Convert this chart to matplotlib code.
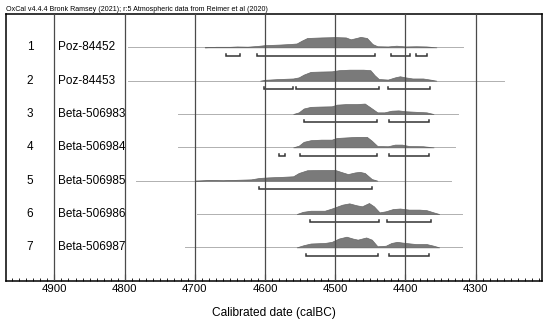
import matplotlib
matplotlib.use('Agg')
from matplotlib import pyplot as plt
from matplotlib.ticker import MultipleLocator

plt.rcParams['font.family'] = ['Liberation Sans', 'DejaVu Sans']

header = 'OxCal v4.4.4 Bronk Ramsey (2021); r:5 Atmospheric data from Reimer et al (2020)'

samples = ['Poz-84452', 'Poz-84453', 'Beta-506983', 'Beta-506984',
           'Beta-506985', 'Beta-506986', 'Beta-506987']

# calibrated probability profiles (years calBC, relative probability)
dist_years = [
    [4686, 4670, 4650, 4640, 4625, 4612, 4600, 4580, 4565, 4555, 4548, 4540, 4520, 4500,
     4485, 4478, 4470, 4464, 4455, 4447, 4440, 4425, 4413, 4400, 4385, 4370, 4356],
    [4607, 4600, 4580, 4560, 4552, 4545, 4535, 4520, 4505, 4495, 4480, 4460, 4450, 4444,
     4438, 4425, 4415, 4408, 4400, 4390, 4375, 4365, 4356],
    [4560, 4552, 4545, 4535, 4520, 4505, 4498, 4485, 4470, 4458, 4450, 4440, 4430, 4420,
     4410, 4400, 4385, 4370, 4360],
    [4560, 4552, 4545, 4535, 4520, 4505, 4498, 4485, 4470, 4455, 4448, 4440, 4425, 4415,
     4405, 4395, 4375, 4360],
    [4700, 4680, 4660, 4640, 4620, 4608, 4595, 4575, 4560, 4552, 4540, 4520, 4500, 4492,
     4482, 4472, 4465, 4458, 4448, 4440],
    [4555, 4546, 4535, 4515, 4505, 4490, 4480, 4470, 4462, 4452, 4445, 4437, 4428, 4418,
     4408, 4395, 4380, 4370, 4360, 4352],
    [4555, 4545, 4535, 4515, 4505, 4495, 4484, 4475, 4468, 4456, 4448, 4440, 4428, 4420,
     4412, 4400, 4385, 4370, 4360, 4352],
]
dist_probs = [
    [0, 0.5, 0.5, 0.8, 0.6, 1.2, 2, 2.5, 3, 3.5, 6, 8.5, 9, 9.3,
     9, 7.3, 8.5, 9.5, 8.5, 3, 1, 0.8, 1.5, 0.8, 1, 0.8, 0],
    [0, 0.8, 1.5, 2, 3, 5.5, 8, 8.3, 8.5, 9.5, 10, 10, 9.5, 5,
     1.5, 1, 3, 4, 3, 2, 2, 1, 0],
    [0, 1.5, 5, 6.5, 6.8, 7, 8.5, 9, 9, 9.5, 6, 1.5, 1.5, 3,
     3.3, 2.5, 2, 1.5, 0],
    [0, 1.5, 5, 6.5, 7, 7, 8.5, 9, 9.5, 9.5, 6, 1.2, 1, 2.5,
     2.5, 1.2, 1, 0],
    [0, 0.6, 0.4, 0.8, 1.2, 2.5, 3, 3.5, 4, 7, 9.5, 9.7, 9.7, 8,
     6, 7.5, 8, 7, 1.5, 0],
    [0, 2, 3, 3, 5, 8.5, 9.7, 8, 7, 10, 7, 1.5, 2.5, 4.5,
     5, 4, 4, 3.5, 1.5, 0],
    [0, 2, 3.5, 4, 5, 8, 9.7, 8, 7, 9, 7, 1, 1.5, 4,
     5, 4, 3, 3, 1.5, 0],
]

# extent of the thin baseline of each sample
line_start = [4795, 4795, 4724, 4724, 4784, 4697, 4714]
line_end = [4318, 4259, 4325, 4330, 4335, 4320, 4320]

# 95.4% ranges
ranges = [
    [(4655, 4636), (4612, 4443), (4420, 4394), (4385, 4370)],
    [(4601, 4560), (4556, 4438), (4425, 4365)],
    [(4545, 4440), (4423, 4367)],
    [(4580, 4572), (4550, 4440), (4423, 4367)],
    [(4609, 4448)],
    [(4536, 4438), (4426, 4363)],
    [(4541, 4439), (4423, 4366)],
]

fig = plt.figure(figsize=(5.5, 3.24), dpi=100)
ax = fig.add_axes([6 / 550, 43.3 / 324, 535.7 / 550, 266.7 / 324])

scale = 0.033
for i, name in enumerate(samples):
    row = i + 1
    ax.plot([line_start[i], line_end[i]], [row, row], color='#b0b0b0', lw=0.7, zorder=1)
    base = [row] * len(dist_years[i])
    top = [row - p * scale for p in dist_probs[i]]
    ax.fill_between(dist_years[i], base, top, color='#7a7a7a', lw=0.5,
                    edgecolor='#666666', zorder=2)
    # range brackets under the distribution
    yb = row + 0.25
    for a, b in ranges[i]:
        ax.plot([a, a, b, b], [yb - 0.06, yb, yb, yb - 0.06], color='#333333',
                lw=1.1, solid_joinstyle='miter', zorder=3)
    ax.text(0.0448, row, str(row), transform=ax.get_yaxis_transform(),
            ha='center', va='center', fontsize=8.5)
    ax.text(0.097, row, name, transform=ax.get_yaxis_transform(),
            ha='left', va='center', fontsize=8.5)

"""vertical lines every 100 years"""
for yr in range(4300, 5000, 100):
    ax.axvline(yr, color='#4a4a4a', lw=0.9, zorder=4)

ax.set_xlim(4969, 4206)
ax.set_ylim(8, 0)
ax.set_xticks(range(4900, 4200, -100))
ax.xaxis.set_minor_locator(MultipleLocator(10))
ax.tick_params(axis='x', which='major', direction='in', length=5, width=0.8,
               labelsize=8.2, pad=2.5)
ax.tick_params(axis='x', which='minor', direction='in', length=2.5, width=0.6)
ax.set_yticks([])
for s in ax.spines.values():
    s.set_linewidth(1.1)

fig.text(274 / 550, 1 - 312.7 / 324, 'Calibrated date (calBC)', ha='center',
         va='center', fontsize=8.6)
fig.text(6 / 550, 1 - 9.5 / 324, header, ha='left', va='center', fontsize=5.1)

fig.savefig('out.png', dpi=100)
